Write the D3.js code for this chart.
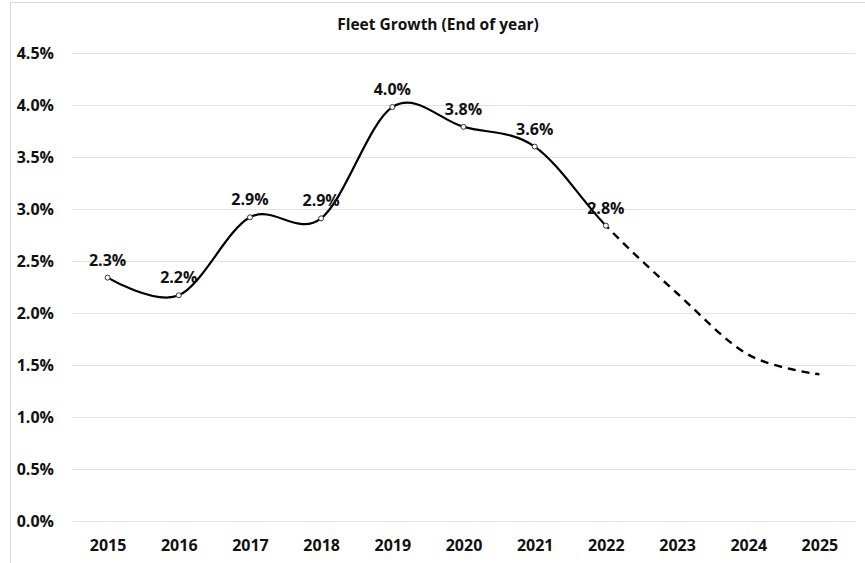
<!DOCTYPE html>
<html>
<head>
<meta charset="utf-8">
<script src="https://cdn.jsdelivr.net/npm/d3@7"></script>
<style>
  body { margin: 0; background: #fff; }
  text { font-family: "Open Sans", sans-serif; font-weight: bold; fill: #111; }
</style>
</head>
<body>
<div id="chart"></div>
<script>
const years = [2015, 2016, 2017, 2018, 2019, 2020, 2021, 2022, 2023, 2024, 2025];
const growth = [2.34, 2.17, 2.92, 2.91, 3.98, 3.79, 3.60, 2.84, 2.19, 1.60, 1.41];
const labels = ["2.3%", "2.2%", "2.9%", "2.9%", "4.0%", "3.8%", "3.6%", "2.8%", null, null, null];
const lastActual = 2022;
const yTicks = [0, 0.5, 1, 1.5, 2, 2.5, 3, 3.5, 4, 4.5];

const width = 865, height = 563;
const margin = {top: 53, right: 10, bottom: 42, left: 72};

const svg = d3.select("#chart").append("svg")
    .attr("width", width)
    .attr("height", height);

// chart frame (cut at right/bottom like the original)
svg.append("rect")
    .attr("x", 10.5).attr("y", 2.5)
    .attr("width", 900).attr("height", 600)
    .attr("fill", "none")
    .attr("stroke", "#d9d9d9");

const x = d3.scalePoint()
    .domain(years)
    .range([margin.left, width - margin.right])
    .padding(0.5);

const y = d3.scaleLinear()
    .domain([0, 4.5])
    .range([height - margin.bottom, margin.top]);

svg.append("text")
    .attr("x", 438).attr("y", 30)
    .attr("text-anchor", "middle")
    .style("font-size", "15.5px")
    .text("Fleet Growth (End of year)");

// grid + y labels
const yAxis = svg.append("g")
    .attr("transform", `translate(${margin.left},0)`)
    .call(d3.axisLeft(y).tickValues(yTicks)
        .tickSize(-(width - margin.right - margin.left))
        .tickPadding(18)
        .tickFormat(d => d.toFixed(1) + "%"));
yAxis.select(".domain").remove();
yAxis.selectAll(".tick line").attr("stroke", "#e3e3e3");
yAxis.selectAll(".tick text").style("font-size", "16px").attr("fill", "#111");

const xAxis = svg.append("g")
    .attr("transform", `translate(0,${height - margin.bottom})`)
    .call(d3.axisBottom(x).tickSize(0).tickPadding(19));
xAxis.select(".domain").remove();
xAxis.selectAll(".tick text").style("font-size", "16px").attr("fill", "#111");

const pts = years.map((yr, i) => ({year: yr, v: growth[i], label: labels[i]}));

const line = d3.line()
    .x(d => x(d.year))
    .y(d => y(d.v))
    .curve(d3.curveCardinal.tension(0));

const splitX = x(lastActual);
const defs = svg.append("defs");
defs.append("clipPath").attr("id", "clipActual")
  .append("rect").attr("x", 0).attr("y", 0).attr("width", splitX).attr("height", height);
defs.append("clipPath").attr("id", "clipForecast")
  .append("rect").attr("x", splitX).attr("y", 0).attr("width", width - splitX).attr("height", height);

svg.append("path")
    .datum(pts)
    .attr("d", line)
    .attr("fill", "none")
    .attr("stroke", "#000")
    .attr("stroke-width", 2.2)
    .attr("clip-path", "url(#clipActual)");

svg.append("path")
    .datum(pts)
    .attr("d", line)
    .attr("fill", "none")
    .attr("stroke", "#000")
    .attr("stroke-width", 2.4)
    .attr("stroke-dasharray", "8,6")
    .attr("clip-path", "url(#clipForecast)");

const actual = pts.filter(d => d.year <= lastActual);

svg.append("g").selectAll("circle")
    .data(actual)
    .join("circle")
    .attr("cx", d => x(d.year))
    .attr("cy", d => y(d.v))
    .attr("r", 2.5)
    .attr("fill", "#fff")
    .attr("stroke", "#333")
    .attr("stroke-width", 1);

svg.append("g").selectAll("text")
    .data(actual)
    .join("text")
    .attr("x", d => x(d.year))
    .attr("y", d => y(d.v) - 12)
    .attr("text-anchor", "middle")
    .style("font-size", "16px")
    .text(d => d.label);
</script>
</body>
</html>
